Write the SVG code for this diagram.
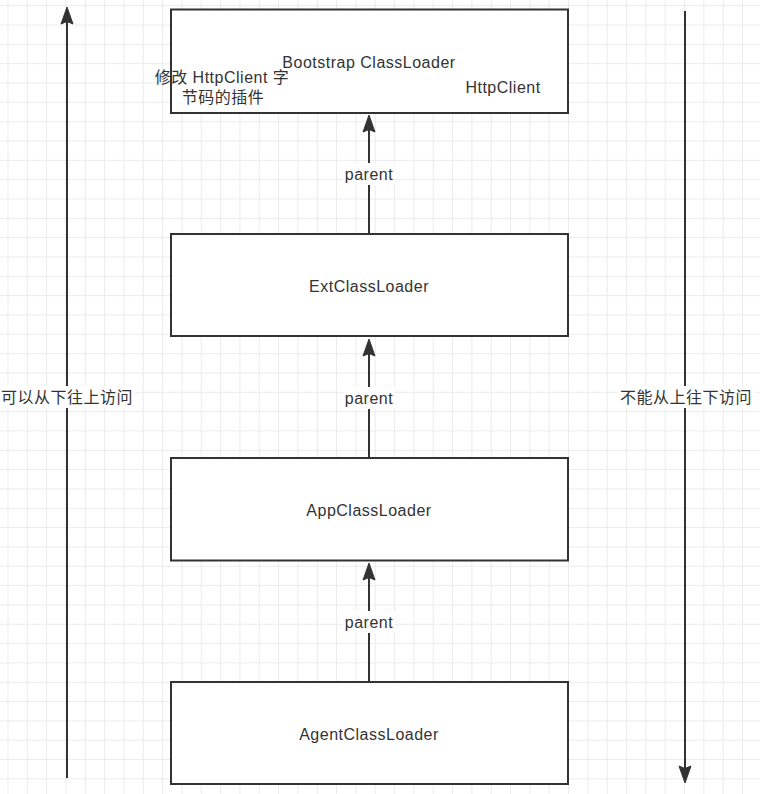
<svg xmlns="http://www.w3.org/2000/svg" width="760" height="794" viewBox="0 0 760 794">
  <style>
    .box { fill: #ffffff; stroke: #333333; stroke-width: 2; }
    .edge { fill: none; stroke: #333333; stroke-width: 2; }
    .head { fill: #333333; stroke: #333333; stroke-width: 1; stroke-linejoin: miter; }
    .lbl { font-family: "Liberation Sans", "Noto Sans CJK SC", sans-serif; font-size: 16px; letter-spacing: 0.5px; fill: #333333; text-anchor: middle; }
    .bg { fill: #ffffff; }
  </style>
  <defs>
    <pattern id="grid" patternUnits="userSpaceOnUse" x="7.5" y="5.2" width="19.33" height="19.33">
      <path d="M0.5 0 V19.33 M0 0.5 H19.33" fill="none" stroke="#ebebeb" stroke-width="1"/>
    </pattern>
    <!-- block arrowhead, tip at the origin, pointing up -->
    <path id="head-up" class="head" d="M0 0 L6 17 L0 14.5 L-6 17 Z"/>
  </defs>

  <rect x="0" y="0" width="760" height="794" fill="#ffffff"/>
  <rect x="0" y="0" width="760" height="794" fill="url(#grid)"/>

  <!-- side arrows -->
  <g id="side-up">
    <line class="edge" x1="67" y1="778" x2="67" y2="20"/>
    <use href="#head-up" transform="translate(67,7)"/>
    <rect class="bg" x="1" y="386" width="134" height="22"/>
    <text class="lbl" x="67" y="403">可以从下往上访问</text>
  </g>
  <g id="side-down">
    <line class="edge" x1="685" y1="11" x2="685" y2="770"/>
    <use href="#head-up" transform="translate(685,783) rotate(180)"/>
    <rect class="bg" x="618" y="386" width="137" height="22"/>
    <text class="lbl" x="686" y="403">不能从上往下访问</text>
  </g>

  <!-- parent connectors -->
  <g id="connectors">
    <line class="edge" x1="369" y1="234" x2="369" y2="126"/>
    <use href="#head-up" transform="translate(369,115)"/>
    <rect class="bg" x="343" y="163" width="52" height="22"/>
    <text class="lbl" x="369" y="180">parent</text>

    <line class="edge" x1="369" y1="458" x2="369" y2="350"/>
    <use href="#head-up" transform="translate(369,339)"/>
    <rect class="bg" x="343" y="387" width="52" height="22"/>
    <text class="lbl" x="369" y="404">parent</text>

    <line class="edge" x1="369" y1="682" x2="369" y2="574"/>
    <use href="#head-up" transform="translate(369,563)"/>
    <rect class="bg" x="343" y="611" width="52" height="22"/>
    <text class="lbl" x="369" y="628">parent</text>
  </g>

  <g id="bootstrap">
    <rect class="box" x="171" y="9.5" width="397" height="103.5"/>
    <text class="lbl" x="369" y="68">Bootstrap ClassLoader</text>
    <text class="lbl" x="503" y="93">HttpClient</text>
  </g>
  <g id="plugin-note">
    <text class="lbl" x="222" y="83">修改 HttpClient 字</text>
    <text class="lbl" x="223" y="103">节码的插件</text>
  </g>
  <g id="ext">
    <rect class="box" x="171" y="234" width="397" height="102"/>
    <text class="lbl" x="369" y="292">ExtClassLoader</text>
  </g>
  <g id="app">
    <rect class="box" x="171" y="458" width="397" height="102.5"/>
    <text class="lbl" x="369" y="516">AppClassLoader</text>
  </g>
  <g id="agent">
    <rect class="box" x="171" y="682" width="397" height="102"/>
    <text class="lbl" x="369" y="740">AgentClassLoader</text>
  </g>
</svg>
